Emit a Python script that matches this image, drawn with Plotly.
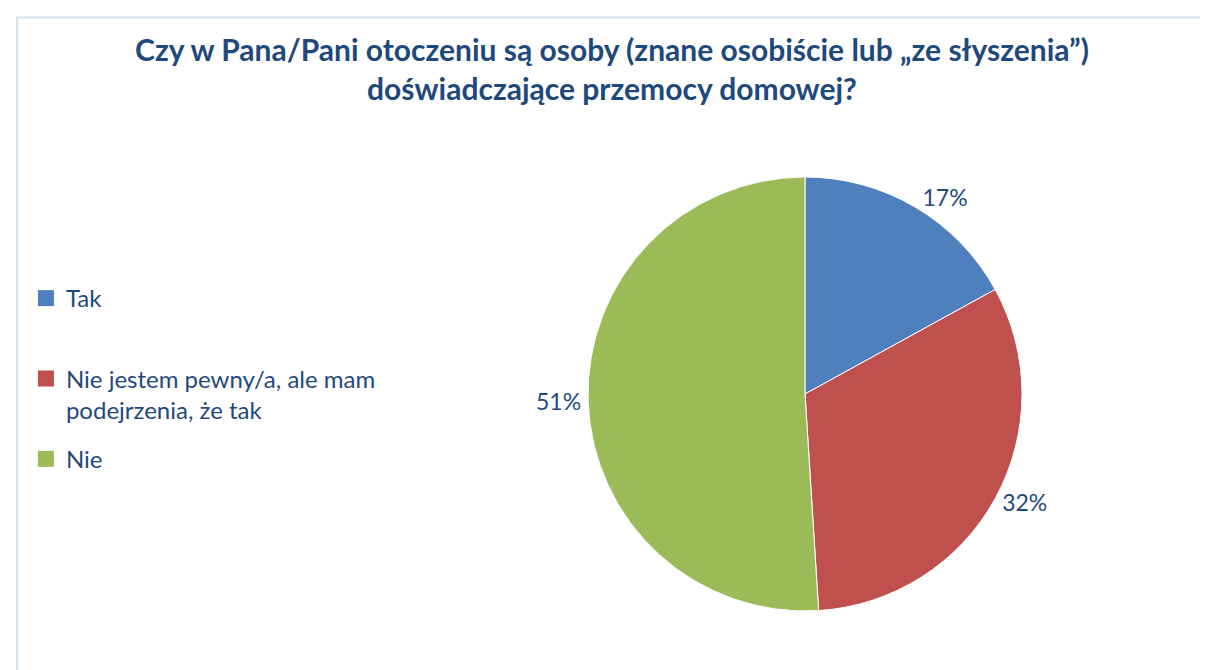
import plotly.graph_objects as go

# dane
labels = ["Tak", "Nie jestem pewny/a, ale mam<br>podejrzenia, że tak", "Nie"]
values = [17, 32, 51]
colors = ["#4F80BE", "#C0504D", "#9BBB59"]

title_txt = ("<b>Czy w Pana/Pani otoczeniu są osoby (znane osobiście lub „ze słyszenia”)"
             "<br>doświadczające przemocy domowej?</b>")

W, H = 1208, 670
cx, cy, r = 801, 386, 217
TXT = "#1F497D"

fig = go.Figure()
fig.add_trace(go.Pie(
    labels=labels,
    values=values,
    sort=False,
    direction="clockwise",
    rotation=0,
    marker=dict(colors=colors, line=dict(color="white", width=1)),
    texttemplate="%{percent:.0%}",
    textposition="outside",
    textfont=dict(size=23, color=TXT, family="Lato"),
    hoverinfo="label+percent",
    showlegend=False,
    domain=dict(x=[(cx - 300) / W, (cx + 300) / W],
                y=[1 - (cy + r) / H, 1 - (cy - r) / H]),
))

# legenda: osobne wpisy, żeby odstępy były jak w oryginale
legend_txt = ["Tak<br> ", "Nie jestem pewny/a, ale mam<br>podejrzenia, że tak", "Nie"]
for i, (name, col) in enumerate(zip(legend_txt, colors)):
    fig.add_trace(go.Scatter(
        x=[None], y=[None], mode="markers", name=name,
        legendgroup=f"g{i}",
        marker=dict(symbol="square", size=17, color=col),
    ))

fig.update_layout(
    width=W, height=H,
    margin=dict(l=0, r=0, t=0, b=0),
    paper_bgcolor="white",
    plot_bgcolor="white",
    xaxis=dict(visible=False),
    yaxis=dict(visible=False),
    title=dict(text=title_txt, x=0.5, xanchor="center", y=1 - 53 / H, yanchor="top",
               font=dict(family="Lato", size=30, color=TXT)),
    legend=dict(x=18 / W, y=1 - 268 / H, xanchor="left", yanchor="top",
                font=dict(family="Lato", size=24, color=TXT),
                valign="top", tracegroupgap=15, bgcolor="rgba(0,0,0,0)"),
    shapes=[dict(type="rect", xref="paper", yref="paper",
                 x0=9 / W, x1=1.02, y0=-0.02, y1=1 - 9.5 / H,
                 line=dict(color="#D6E3F3", width=2))],
)

fig.write_html("out.html")
